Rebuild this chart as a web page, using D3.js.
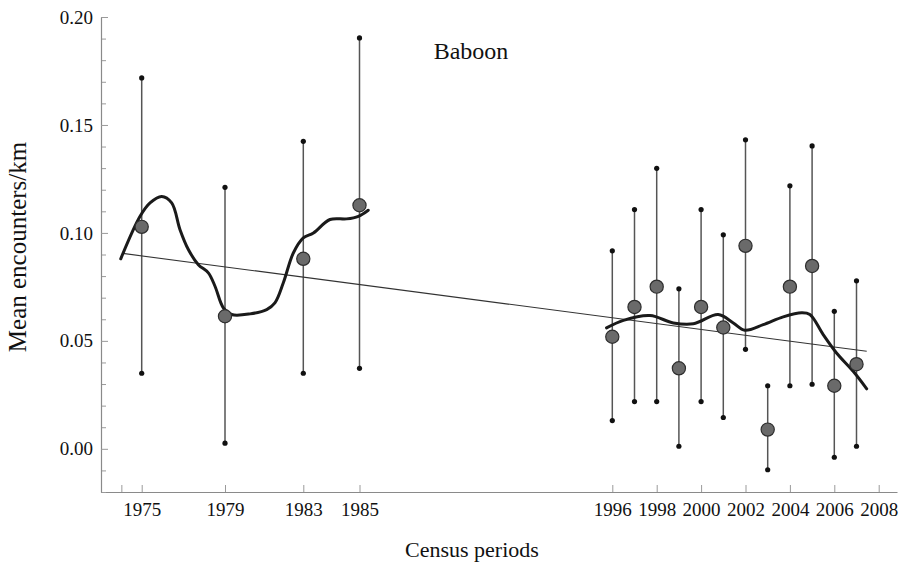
<!DOCTYPE html>
<html>
<head>
<meta charset="utf-8">
<script src="https://cdn.jsdelivr.net/npm/d3@7"></script>
<style>
  html, body { margin: 0; padding: 0; background: #fff; }
  svg { display: block; font-family: "Liberation Serif", "Times New Roman", serif; }
</style>
</head>
<body>
<div id="chart"></div>
<script>
// census years and mean encounters with their error bar ends
const years = [1975, 1979, 1983, 1985, 1996, 1997, 1998, 1999, 2000, 2001, 2002, 2003, 2004, 2005, 2006, 2007];
const means = [0.1028, 0.0614, 0.088, 0.1128, 0.0519, 0.0657, 0.0751, 0.0373, 0.0657, 0.0562, 0.094, 0.0089, 0.0751, 0.0847, 0.0292, 0.0392];
const upper = [0.1718, 0.1211, 0.1424, 0.1903, 0.0917, 0.1108, 0.1299, 0.0741, 0.1108, 0.0991, 0.1431, 0.0292, 0.1218, 0.1403, 0.0637, 0.0778];
const lower = [0.035, 0.0026, 0.035, 0.0373, 0.0131, 0.0219, 0.0219, 0.0012, 0.0219, 0.0145, 0.0461, -0.0097, 0.0292, 0.0299, -0.0039, 0.0012];

// smoothed curve, first and second census blocks
const smoothYearsA = [1973.97, 1974.92, 1975.4, 1975.96, 1976.44, 1976.84, 1977.24, 1977.72, 1978.2, 1978.52, 1978.92, 1979.34, 1980.28, 1981.13, 1981.55, 1981.98, 1982.49, 1983.0, 1983.36, 1983.95, 1984.54, 1984.96, 1985.38];
const smoothValsA = [0.088, 0.1077, 0.1139, 0.1169, 0.1139, 0.1015, 0.0923, 0.0853, 0.0815, 0.0753, 0.0653, 0.0622, 0.0625, 0.0645, 0.0676, 0.0769, 0.0907, 0.0977, 0.1, 0.1062, 0.1065, 0.1077, 0.1105];
const smoothYearsB = [1995.75, 1996.5, 1997.7, 1998.75, 1999.65, 2000.77, 2001.45, 2001.97, 2002.8, 2003.7, 2004.53, 2004.9, 2005.5, 2006.1, 2006.85, 2007.46];
const smoothValsB = [0.056, 0.0595, 0.0617, 0.0583, 0.0579, 0.0622, 0.0583, 0.0549, 0.0575, 0.0611, 0.063, 0.0622, 0.0529, 0.0444, 0.0359, 0.0278];

// linear trend end points
const trendYears = [1974.07, 2007.46];
const trendVals = [0.0905, 0.0452];

const xTickYears = [1974, 1975, 1979, 1983, 1985, 1996, 1998, 2000, 2002, 2004, 2006, 2008];
const xTickLabels = ['', '1975', '1979', '1983', '1985', '1996', '1998', '2000', '2002', '2004', '2006', '2008'];
const yMajorTicks = [0, 0.05, 0.10, 0.15, 0.20];

const WIDTH = 899;
const HEIGHT = 569;
const MARGIN = { top: 17, right: 2, bottom: 77, left: 101 };
// census axis is not evenly spaced: piecewise linear breakpoints
const X_BREAKS = [1973, 1975, 1979, 1983, 1985, 1996, 2008, 2009];
const X_BREAK_POS = [0, 40.7, 124, 202.3, 258.5, 511.3, 777.7, 796];

const innerW = WIDTH - MARGIN.left - MARGIN.right;
const innerH = HEIGHT - MARGIN.top - MARGIN.bottom;

const svg = d3.select('#chart')
  .append('svg')
  .attr('width', WIDTH)
  .attr('height', HEIGHT)
  .attr('viewBox', `0 0 ${WIDTH} ${HEIGHT}`);

const g = svg.append('g')
  .attr('transform', `translate(${MARGIN.left},${MARGIN.top})`);

const x = d3.scaleLinear().domain(X_BREAKS).range(X_BREAK_POS);
const y = d3.scaleLinear().domain([-0.02, 0.20]).range([innerH, 0]);

// axes
const xAxis = g.append('g')
  .attr('transform', `translate(0,${innerH})`)
  .call(d3.axisBottom(x)
    .tickValues(xTickYears)
    .tickFormat((d, i) => xTickLabels[i])
    .tickSizeInner(-7)
    .tickSizeOuter(0)
    .tickPadding(11));

const yMinor = d3.range(-2, 21).map((k) => k / 100).filter((v) => !yMajorTicks.some((m) => Math.abs(m - v) < 1e-9));
g.append('g')
  .attr('class', 'y-minor')
  .call(d3.axisLeft(y).tickValues(yMinor).tickFormat('').tickSizeInner(-5).tickSizeOuter(0))
  .call((s) => s.select('.domain').remove());

const yAxis = g.append('g')
  .call(d3.axisLeft(y)
    .tickValues(yMajorTicks)
    .tickFormat(d3.format('.2f'))
    .tickSizeInner(-7)
    .tickSizeOuter(0)
    .tickPadding(8));

g.selectAll('.domain').attr('stroke', '#8a8a8a').attr('stroke-width', 1.2);
g.selectAll('.tick line').attr('stroke', '#9a9a9a').attr('stroke-width', 1);
g.selectAll('.tick text')
  .attr('fill', '#111')
  .attr('font-size', '19px')
  .attr('font-family', '"Liberation Serif", "Times New Roman", serif');

// error bars
const pts = years.map((yr, i) => ({ yr, mean: means[i], hi: upper[i], lo: lower[i] }));

g.append('g').selectAll('line')
  .data(pts)
  .join('line')
  .attr('x1', (d) => x(d.yr)).attr('x2', (d) => x(d.yr))
  .attr('y1', (d) => y(d.lo)).attr('y2', (d) => y(d.hi))
  .attr('stroke', '#555')
  .attr('stroke-width', 1.5);

const ends = pts.flatMap((d) => [{ yr: d.yr, v: d.hi }, { yr: d.yr, v: d.lo }]);
g.append('g').selectAll('circle')
  .data(ends)
  .join('circle')
  .attr('cx', (d) => x(d.yr))
  .attr('cy', (d) => y(d.v))
  .attr('r', 2.6)
  .attr('fill', '#111');

// trend line
g.append('path')
  .datum(trendYears.map((yr, i) => [yr, trendVals[i]]))
  .attr('fill', 'none')
  .attr('stroke', '#333')
  .attr('stroke-width', 1.1)
  .attr('d', d3.line().x((d) => x(d[0])).y((d) => y(d[1])));

// smoothed curves
const smoothLine = d3.line()
  .x((d) => x(d[0]))
  .y((d) => y(d[1]))
  .curve(d3.curveCatmullRom.alpha(0.5));

[[smoothYearsA, smoothValsA], [smoothYearsB, smoothValsB]].forEach(([xs, vs]) => {
  g.append('path')
    .datum(xs.map((yr, i) => [yr, vs[i]]))
    .attr('fill', 'none')
    .attr('stroke', '#1a1a1a')
    .attr('stroke-width', 3)
    .attr('stroke-linecap', 'round')
    .attr('d', smoothLine);
});

// mean points
g.append('g').selectAll('circle')
  .data(pts)
  .join('circle')
  .attr('cx', (d) => x(d.yr))
  .attr('cy', (d) => y(d.mean))
  .attr('r', 6.6)
  .attr('fill', '#6a6a6a')
  .attr('stroke', '#2e2e2e')
  .attr('stroke-width', 1.2);

// labels
svg.append('text')
  .attr('x', 471)
  .attr('y', 59)
  .attr('text-anchor', 'middle')
  .attr('font-size', '24px')
  .attr('fill', '#111')
  .text('Baboon');

svg.append('text')
  .attr('x', MARGIN.left + innerW * 0.466)
  .attr('y', 557)
  .attr('text-anchor', 'middle')
  .attr('font-size', '22px')
  .attr('fill', '#111')
  .text('Census periods');

svg.append('text')
  .attr('transform', `translate(26,${247}) rotate(-90)`)
  .attr('text-anchor', 'middle')
  .attr('font-size', '25px')
  .attr('fill', '#111')
  .text('Mean encounters/km');
</script>
</body>
</html>
